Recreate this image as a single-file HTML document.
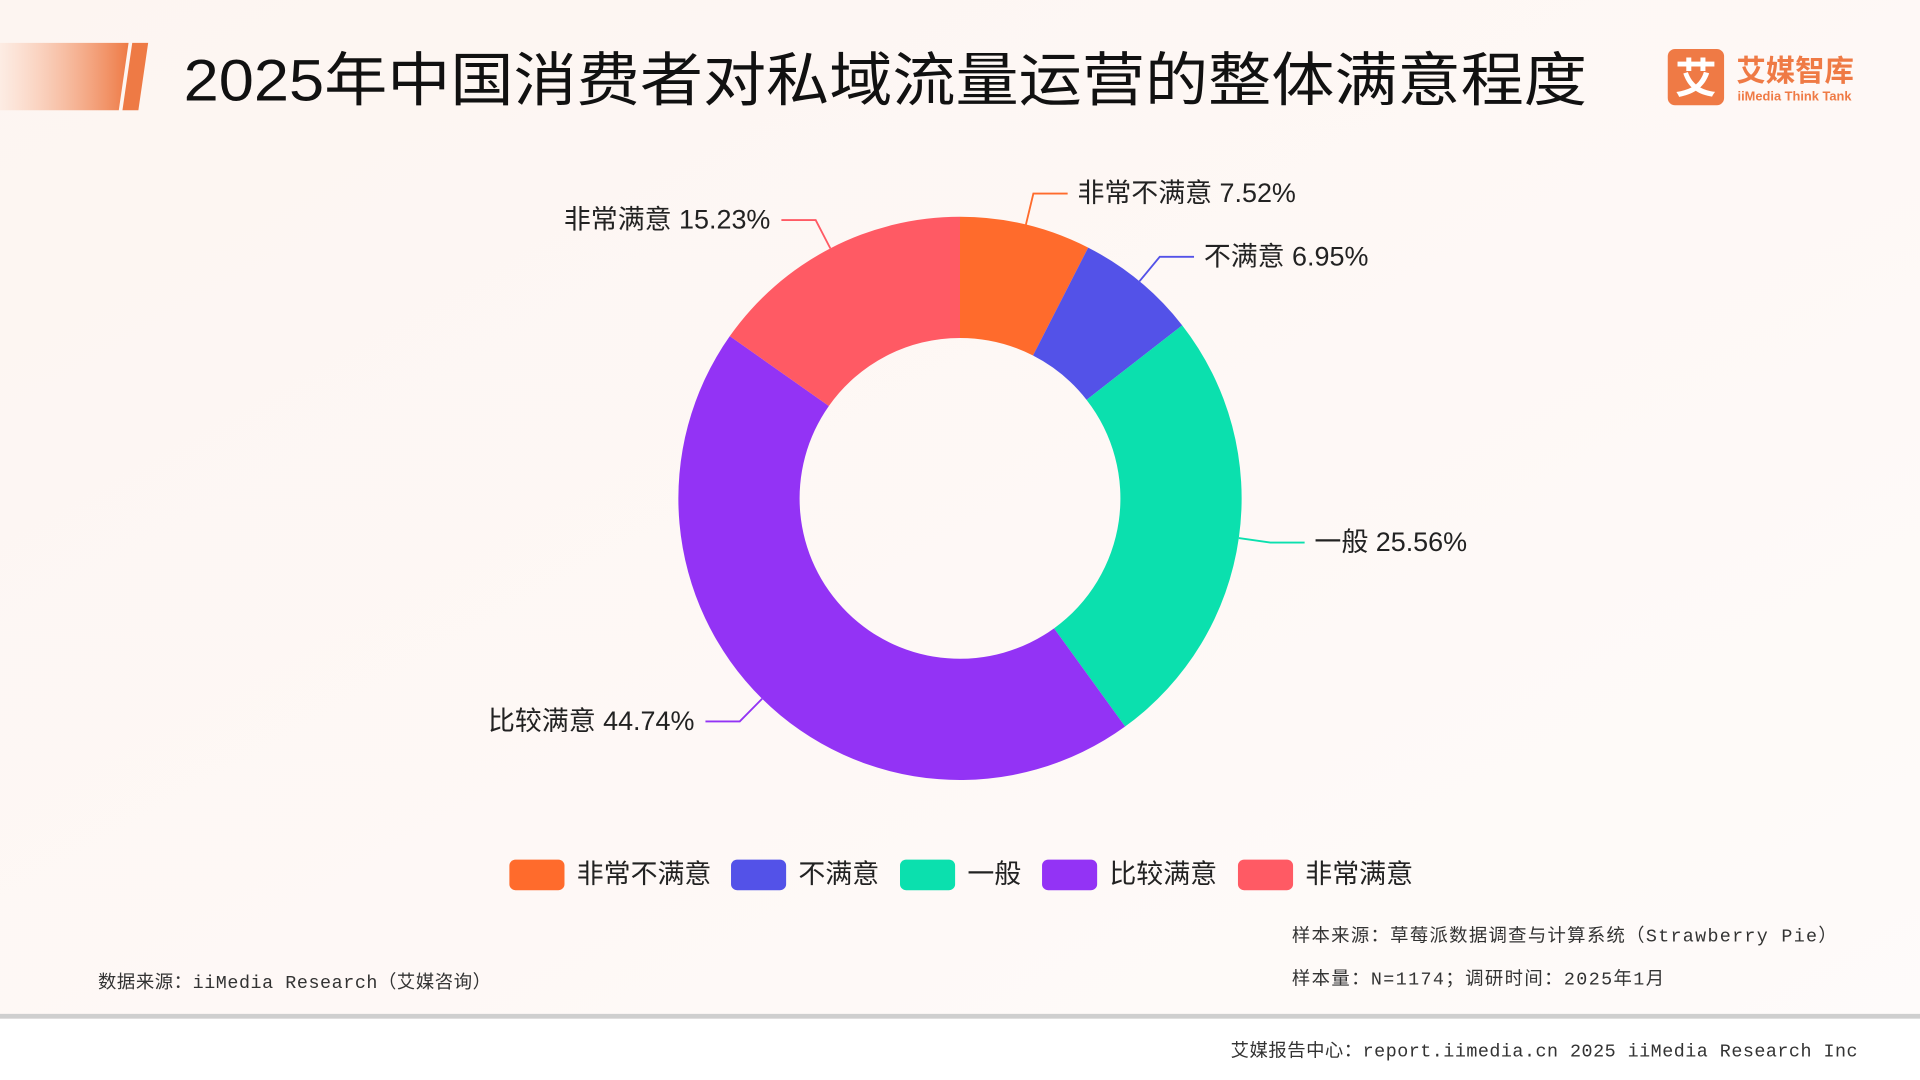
<!DOCTYPE html>
<html><head><meta charset="utf-8"><style>
html,body{margin:0;padding:0;width:1920px;height:1080px;overflow:hidden;background:#fdf7f4}
svg{display:block}
text{font-family:"Liberation Sans","Noto Sans CJK SC",sans-serif}
.mono{font-family:"Liberation Mono","Noto Sans CJK SC",monospace}
</style></head><body>
<svg width="1920" height="1080" viewBox="0 0 1568 882" xmlns="http://www.w3.org/2000/svg">
<defs>
<linearGradient id="bg" x1="0" y1="0" x2="1" y2="1"><stop offset="0" stop-color="#fdf5f1"/><stop offset="1" stop-color="#fefbfa"/></linearGradient>
<linearGradient id="hb" x1="0" y1="0" x2="1" y2="0"><stop offset="0" stop-color="#fde6da" stop-opacity="0.6"/><stop offset="1" stop-color="#ee7a45"/></linearGradient>
</defs>
<rect width="1568" height="882" fill="url(#bg)"/>
<polygon points="0,35 105,35 97,90 0,90" fill="url(#hb)"/>
<polygon points="108,35 121,35 113,90 100,90" fill="#ee7a45"/>
<text x="150" y="82" font-size="48" fill="#111" textLength="1146" lengthAdjust="spacingAndGlyphs">2025年中国消费者对私域流量运营的整体满意程度</text>
<g>
<rect x="1362" y="40" width="46" height="46" rx="6" fill="#ef7a45"/>
<text x="1385" y="76" font-size="34" font-weight="bold" fill="#fff" text-anchor="middle">艾</text>
<text x="1418" y="66" font-size="24" font-weight="bold" fill="#ef7a45">艾媒智库</text>
<text x="1419" y="82" font-size="10.5" font-weight="bold" fill="#ef7a45">iiMedia Think Tank</text>
</g>
<g id="donut"></g>
<g id="legend"></g>
<text class="mono" x="1055" y="769" font-size="15" fill="#333" textLength="445" lengthAdjust="spacing">样本来源：草莓派数据调查与计算系统（Strawberry Pie）</text>
<text class="mono" x="1055" y="804" font-size="15" fill="#333" textLength="304" lengthAdjust="spacing">样本量：N=1174；调研时间：2025年1月</text>
<text class="mono" x="80" y="807" font-size="15" fill="#333" textLength="321" lengthAdjust="spacing">数据来源：iiMedia Research（艾媒咨询）</text>
<rect x="0" y="828" width="1568" height="4" fill="#cfcfcf"/>
<rect x="0" y="832" width="1568" height="50" fill="#fff"/>
<text class="mono" x="1005" y="863" font-size="15" fill="#333" textLength="512" lengthAdjust="spacing">艾媒报告中心：report.iimedia.cn  2025 iiMedia Research Inc</text>
</svg>
<script>
const categories=["非常不满意","不满意","一般","比较满意","非常满意"];
const values=[7.52,6.95,25.56,44.74,15.23];
const colors=["#FF6B2C","#5352E8","#0BE0AE","#9333F5","#FF5A64"];
const NS="http://www.w3.org/2000/svg";
const cx=784,cy=407,R=230,r=131;
const g=document.getElementById('donut');
const total=values.reduce((a,b)=>a+b,0);
function pt(rad,a){return [cx+rad*Math.sin(a),cy-rad*Math.cos(a)];}
let acc=0;
values.forEach((v,i)=>{
  const a0=acc/total*2*Math.PI,a1=(acc+v)/total*2*Math.PI;acc+=v;
  const lg=(a1-a0)>Math.PI?1:0;
  const p1=pt(R,a0),p2=pt(R,a1),p3=pt(r,a1),p4=pt(r,a0);
  const p=document.createElementNS(NS,'path');
  p.setAttribute('d',`M${p1}A${R},${R} 0 ${lg} 1 ${p2}L${p3}A${r},${r} 0 ${lg} 0 ${p4}Z`);
  p.setAttribute('fill',colors[i]);
  
  
  g.appendChild(p);
  const am=(a0+a1)/2;
  const s=pt(R,am),e=pt(R+26,am);
  const right=Math.sin(am)>=0;
  const hx=e[0]+(right?28:-28);
  const l=document.createElementNS(NS,'polyline');
  l.setAttribute('points',`${s} ${e} ${hx},${e[1]}`);
  l.setAttribute('fill','none');l.setAttribute('stroke',colors[i]);l.setAttribute('stroke-width','1.5');
  
  
  g.appendChild(l);
  const t=document.createElementNS(NS,'text');
  t.setAttribute('x',hx+(right?8:-9));t.setAttribute('y',e[1]+7);
  t.setAttribute('font-size','22');t.setAttribute('fill','#222');
  t.setAttribute('text-anchor',right?'start':'end');
  t.textContent=categories[i]+' '+v.toFixed(2)+'%';
  
  
  g.appendChild(t);
});
const lg=document.getElementById('legend');
const lx=[416,597,735,851,1011];
categories.forEach((c,i)=>{
  const rc=document.createElementNS(NS,'rect');
  rc.setAttribute('x',lx[i]);rc.setAttribute('y',702);rc.setAttribute('width',45);rc.setAttribute('height',25);rc.setAttribute('rx',5);
  rc.setAttribute('fill',colors[i]);
  
  
  lg.appendChild(rc);
  const t=document.createElementNS(NS,'text');
  t.setAttribute('x',lx[i]+55);t.setAttribute('y',721);t.setAttribute('font-size','22');t.setAttribute('fill','#222');
  t.textContent=c;
  
  
  lg.appendChild(t);
});
</script>
</body></html>
